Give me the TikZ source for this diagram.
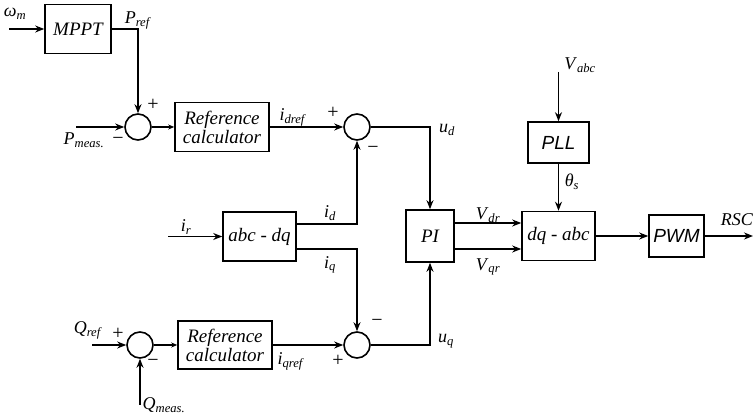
\documentclass[tikz,border=0pt]{standalone}
\usepackage{fontspec}
\setmainfont{Liberation Serif}
\newfontfamily\arialfont{Liberation Sans}
\usetikzlibrary{arrows.meta,positioning,calc}
\newcommand{\sig}[2]{\textit{#1}\textsubscript{\textit{#2}}}

\begin{document}
\begin{tikzpicture}[x=1pt, y=-1pt, line width=1.6pt,
    every node/.style={font=\fontsize{19}{21}\selectfont\itshape},
    blk/.style={draw, rectangle, inner sep=0pt},
    sumc/.style={draw, circle, minimum size=26pt, inner sep=0pt},
    arr/.style={-{Stealth[length=9pt,width=7pt]}},
    arrs/.style={-{Stealth[length=6pt,width=5pt]}},
    lbl/.style={font=\fontsize{18}{20}\selectfont, inner sep=0pt},
    sgn/.style={font=\fontsize{20}{22}\selectfont, inner sep=0pt}]
    \useasboundingbox (0,0) rectangle (753,419);
    % Blocks
    \node[blk, minimum width=66pt, minimum height=49pt] (mppt) at (78,29) {MPPT};
    \node[sumc] (sum1) at (138,127) {};
    \node[blk, minimum width=94pt, minimum height=49pt, align=center] (ref1) at (222,127) {Reference\\[-2pt]calculator};
    \node[sumc] (sum2) at (357,127) {};
    \node[blk, minimum width=73pt, minimum height=49pt] (abcdq) at (259.5,236.5) {abc - dq};
    \node[blk, minimum width=48pt, minimum height=52pt] (pi) at (430,236) {PI};
    \node[blk, minimum width=73pt, minimum height=49pt] (dqabc) at (558.5,236) {dq - abc};
    \node[blk, minimum width=61pt, minimum height=41pt, font=\arialfont\fontsize{19}{21}\selectfont\itshape] (pll) at (558.5,142.5) {PLL};
    \node[blk, minimum width=55pt, minimum height=42pt, font=\arialfont\fontsize{19}{21}\selectfont\itshape] (pwm) at (676.5,236) {PWM};
    \node[sumc] (sum3) at (357,345) {};
    \node[sumc] (sum4) at (140,345) {};
    \node[blk, minimum width=94pt, minimum height=48pt, align=center] (ref2) at (225,345) {Reference\\[-2pt]calculator};
    % Free ends
    \coordinate (wm) at (9,29);
    \coordinate (pmeas) at (76,127);
    \coordinate (ir) at (168,236.5);
    \coordinate (vabc) at (558.5,72);
    \coordinate (rsc) at (753,236);
    \coordinate (qref) at (92,345);
    \coordinate (qmeas) at (140,405);
    % Connectors
    \draw[arr] (wm) -- (mppt);
    \draw[arr] (mppt.east) -| (sum1.north);
    \draw[arr] (pmeas) -- (sum1.west);
    \draw[arrs] (sum1.east) -- (ref1.west);
    \draw[arr] (ref1.east) -- (sum2.west);
    \draw[arr] (sum2.east) -| (pi.north);
    \draw[arr] (ir) -- (abcdq.west);
    \draw[arr] ([yshift=12.5pt]abcdq.east) -| (sum2.south);
    \draw[arr] ([yshift=-12.5pt]abcdq.east) -| (sum3.north);
    \draw[arr] (sum3.east) -| (pi.south);
    \draw[arr] ([yshift=13pt]pi.east) -- ([yshift=13pt]dqabc.west);
    \draw[arr] ([yshift=-13pt]pi.east) -- ([yshift=-13pt]dqabc.west);
    \draw[arr] (vabc) -- (pll.north);
    \draw[arr] (pll.south) -- (dqabc.north);
    \draw[arr] (dqabc.east) -- (pwm.west);
    \draw[arr] (pwm.east) -- (rsc);
    \draw[arr] (qref) -- (sum4.west);
    \draw[arr] (qmeas) -- (sum4.south);
    \draw[arrs] (sum4.east) -- (ref2.west);
    \draw[arr] (ref2.east) -- (sum3.west);
    % Signal labels
    \node[lbl] (l-wm) at (15,14) {\textit{ω}\textsubscript{\textit{m}}};
    \node[lbl] (l-pref) at (138,20) {\sig{P}{ref}};
    \node[lbl] (l-pmeas) at (84,140) {\sig{P}{meas.}};
    \node[lbl] (l-idref) at (293,117) {\sig{i}{dref}};
    \node[lbl] (l-ud) at (447,130) {\sig{u}{d}};
    \node[lbl] (l-ir) at (186,227) {\sig{i}{r}};
    \node[lbl] (l-id) at (330,213) {\sig{i}{d}};
    \node[lbl] (l-iq) at (330,265) {\sig{i}{q}};
    \node[lbl] (l-vdr) at (488,215) {\sig{V}{dr}};
    \node[lbl] (l-vqr) at (488,267) {\sig{V}{qr}};
    \node[lbl] (l-th) at (572,182) {\textit{θ}\textsubscript{\textit{s}}};
    \node[lbl] (l-vabc) at (580,65) {\sig{V}{abc}};
    \node[lbl, anchor=west] (l-rsc) at (720,220) {\textit{RSC}};
    \node[lbl] (l-uq) at (446,341) {\sig{u}{q}};
    \node[lbl] (l-qref) at (88,330) {\sig{Q}{ref}};
    \node[lbl] (l-qmeas) at (164,405) {\sig{Q}{meas.}};
    \node[lbl] (l-iqref) at (291,361) {\sig{i}{qref}};
    % Signs at the summing points
    \node[sgn] (s1p) at (153,105) {+};
    \node[sgn] (s1m) at (118,141) {−};
    \node[sgn] (s2p) at (333,113) {+};
    \node[sgn] (s2m) at (373,150) {−};
    \node[sgn] (s3m) at (377,323) {−};
    \node[sgn] (s3p) at (338,361) {+};
    \node[sgn] (s4p) at (118,334) {+};
    \node[sgn] (s4m) at (153,363) {−};
\end{tikzpicture}
\end{document}
